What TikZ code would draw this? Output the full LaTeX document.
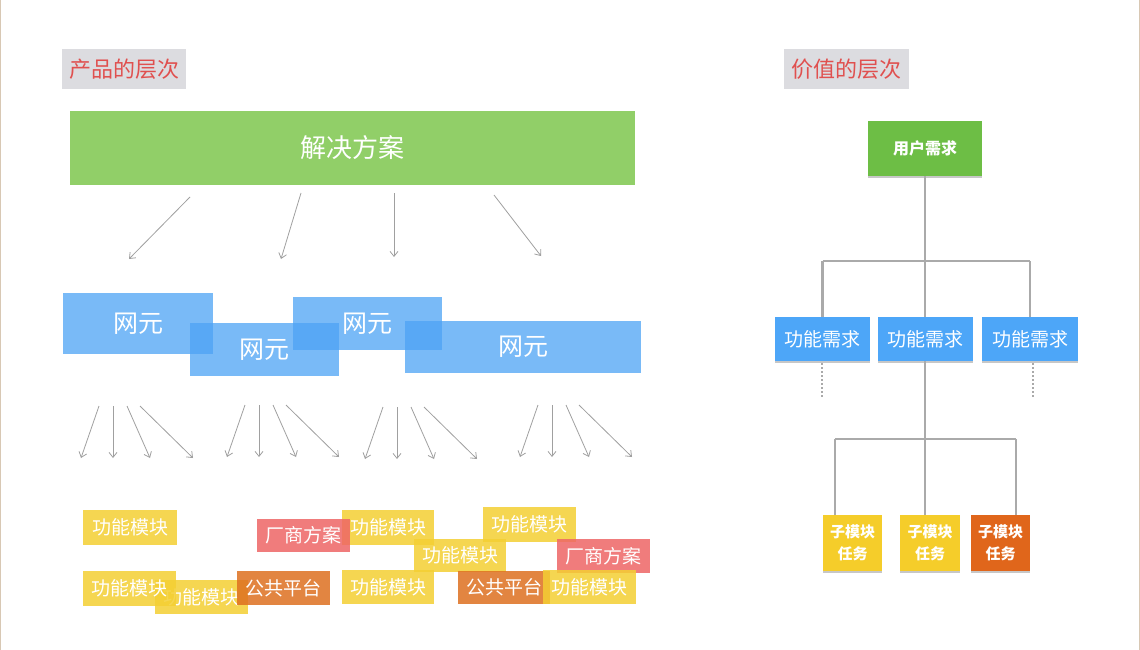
\documentclass[tikz,border=0pt]{standalone}
\usepackage{fontspec}
\newfontfamily\cjk{Noto Sans CJK SC}
\usetikzlibrary{arrows.meta,shadows}
\definecolor{titlebg}{HTML}{DCDCE0}
\definecolor{titlered}{HTML}{E0504F}
\definecolor{solgreen}{HTML}{91CF68}
\definecolor{neblue}{HTML}{4DA3F5}
\definecolor{modyel}{HTML}{F4CF33}
\definecolor{venred}{HTML}{EE6666}
\definecolor{puborg}{HTML}{DE7020}
\definecolor{ugreen}{HTML}{6DBE45}
\definecolor{fblue}{HTML}{4DA6F8}
\definecolor{syel}{HTML}{F5CD2A}
\definecolor{sorg}{HTML}{E0661B}
\definecolor{conngray}{HTML}{AAAAAA}
\definecolor{arrgray}{HTML}{A0A0A0}
\definecolor{edgetan}{HTML}{D8C8B4}
\tikzset{
  box/.style={rectangle, inner sep=0pt, text=white, font=\cjk, align=center},
  titlebox/.style={rectangle, inner sep=0pt, fill=titlebg, text=titlered, font=\cjk\fontsize{22}{25}\selectfont},
  solbox/.style={box, fill=solgreen, font=\cjk\fontsize{26}{30}\selectfont},
  nebox/.style={box, fill=neblue, fill opacity=0.75, text opacity=1, font=\cjk\fontsize{25}{28}\selectfont},
  modbox/.style={box, fill=modyel, fill opacity=0.85, text opacity=1, font=\cjk\fontsize{19}{22}\selectfont},
  venbox/.style={box, fill=venred, fill opacity=0.85, text opacity=1, font=\cjk\fontsize{19}{22}\selectfont},
  pubbox/.style={box, fill=puborg, fill opacity=0.85, text opacity=1, font=\cjk\fontsize{19}{22}\selectfont},
  shad/.style={drop shadow={shadow xshift=0pt, shadow yshift=-1.5pt, opacity=0.22, fill=black}},
  ubox/.style={box, shad, fill=ugreen, font=\cjk\bfseries\fontsize{16}{19}\selectfont},
  fbox/.style={box, shad, fill=fblue, font=\cjk\fontsize{19}{22}\selectfont},
  sbox/.style={box, shad, font=\cjk\bfseries\fontsize{15}{22}\selectfont},
  conn/.style={draw=conngray, line width=2.2pt},
  dotconn/.style={draw=conngray, line width=2pt, dash pattern=on 2pt off 2pt},
  arr/.style={draw=arrgray, line width=0.8pt, -{Straight Barb[length=5pt,width=8pt]}},
}
\begin{document}
\begin{tikzpicture}[x=1pt,y=-1pt]
\fill[white] (0,0) rectangle (1140,650);
\useasboundingbox (0,0) rectangle (1140,650);
\draw[edgetan, line width=1.2pt] (0.6,0) -- (0.6,650);
\draw[edgetan, line width=1.2pt] (1139.4,0) -- (1139.4,650);

% titles
\node[titlebox, minimum width=124pt, minimum height=40pt] (t1) at (124,69) {产品的层次};
\node[titlebox, minimum width=125pt, minimum height=40pt] (t2) at (846.5,69) {价值的层次};

% solution
\node[solbox, minimum width=565pt, minimum height=74pt] (sol) at (352.5,148) {解决方案};

% solution arrows
\coordinate (a1s) at (190,197); \coordinate (a1e) at (129,259);
\coordinate (a2s) at (301,193); \coordinate (a2e) at (281,259);
\coordinate (a3s) at (394,193); \coordinate (a3e) at (394,257);
\coordinate (a4s) at (494,195); \coordinate (a4e) at (541,256);
\draw[arr] (a1s) -- (a1e);
\draw[arr] (a2s) -- (a2e);
\draw[arr] (a3s) -- (a3e);
\draw[arr] (a4s) -- (a4e);

% network elements
\node[nebox, minimum width=150pt, minimum height=61pt] (n1) at (138,323.5) {网元};
\node[nebox, minimum width=149pt, minimum height=53pt] (n2) at (264.5,349.5) {网元};
\node[nebox, minimum width=149pt, minimum height=53pt] (n3) at (367.5,323.5) {网元};
\node[nebox, minimum width=236pt, minimum height=52pt] (n4) at (523,347) {网元};

% arrow groups
\foreach \gx/\gy in {99/406, 245/405, 383/407, 538/405}{
  \coordinate (s1) at (\gx,\gy);
  \draw[arr] (s1) -- ++(-18,52);
  \draw[arr] (s1) ++(14,0) coordinate (s2) -- ++(0,52);
  \draw[arr] (s1) ++(28,0) coordinate (s3) -- ++(23,52);
  \draw[arr] (s1) ++(41,0) coordinate (s4) -- ++(53,52);
}

% bottom modules
\node[modbox, minimum width=94pt, minimum height=35pt] (m1) at (130,527.5) {功能模块};
\node[modbox, minimum width=92pt, minimum height=35pt] (m2) at (388,527.5) {功能模块};
\node[venbox, minimum width=93pt, minimum height=33pt] (v1) at (303.5,535.5) {厂商方案};
\node[modbox, minimum width=93pt, minimum height=35pt] (m3) at (529.5,524.5) {功能模块};
\node[modbox, minimum width=92pt, minimum height=33pt] (m4) at (460,555.5) {功能模块};
\node[venbox, minimum width=93pt, minimum height=34pt] (v2) at (603.5,556) {厂商方案};
\node[modbox, minimum width=93pt, minimum height=34pt] (m6) at (201.5,597) {功能模块};
\node[modbox, minimum width=93pt, minimum height=35pt] (m5) at (129.5,588.5) {功能模块};
\node[pubbox, minimum width=93pt, minimum height=34pt] (p1) at (283.5,588) {公共平台};
\node[modbox, minimum width=92pt, minimum height=34pt] (m7) at (388,587) {功能模块};
\node[pubbox, minimum width=92pt, minimum height=33pt] (p2) at (504,587.5) {公共平台};
\node[modbox, minimum width=93pt, minimum height=34pt] (m8) at (589.5,587) {功能模块};

% right side tree
\node[ubox, minimum width=114pt, minimum height=55pt] (u) at (925,148.5) {用户需求};
\node[fbox, minimum width=95pt, minimum height=44pt] (f1) at (822.5,339) {功能需求};
\node[fbox, minimum width=95pt, minimum height=44pt] (f2) at (925.5,339) {功能需求};
\node[fbox, minimum width=96pt, minimum height=44pt] (f3) at (1030,339) {功能需求};
\node[sbox, fill=syel, minimum width=59pt, minimum height=56pt] (k1) at (852.5,543) {子模块\\任务};
\node[sbox, fill=syel, minimum width=60pt, minimum height=56pt] (k2) at (930,543) {子模块\\任务};
\node[sbox, fill=sorg, minimum width=59pt, minimum height=56pt] (k3) at (1000.5,543) {子模块\\任务};

\coordinate (h1) at (925,261);
\coordinate (j1) at (835,439);
\coordinate (j3) at (1016,439);
\coordinate (d1) at (822,397);
\coordinate (d3) at (1033,397);

\draw[conn] (u.south -| h1) -- (f2.north -| h1);
\draw[conn] (h1 -| f1.north) -- (h1 -| f3.north);
\draw[conn] (h1 -| f1.north) -- (f1.north);
\draw[conn] (h1 -| f3.north) -- (f3.north);
\draw[conn] (f2.south -| h1) -- (k2.north -| h1);
\draw[conn] (j1) -- (j3);
\draw[conn] (j1) -- (j1 |- k1.north);
\draw[conn] (j3) -- (j3 |- k3.north);
\draw[dotconn] (f1.south -| d1) ++(0,2) -- (d1);
\draw[dotconn] (f3.south -| d3) ++(0,2) -- (d3);
\end{tikzpicture}
\end{document}
